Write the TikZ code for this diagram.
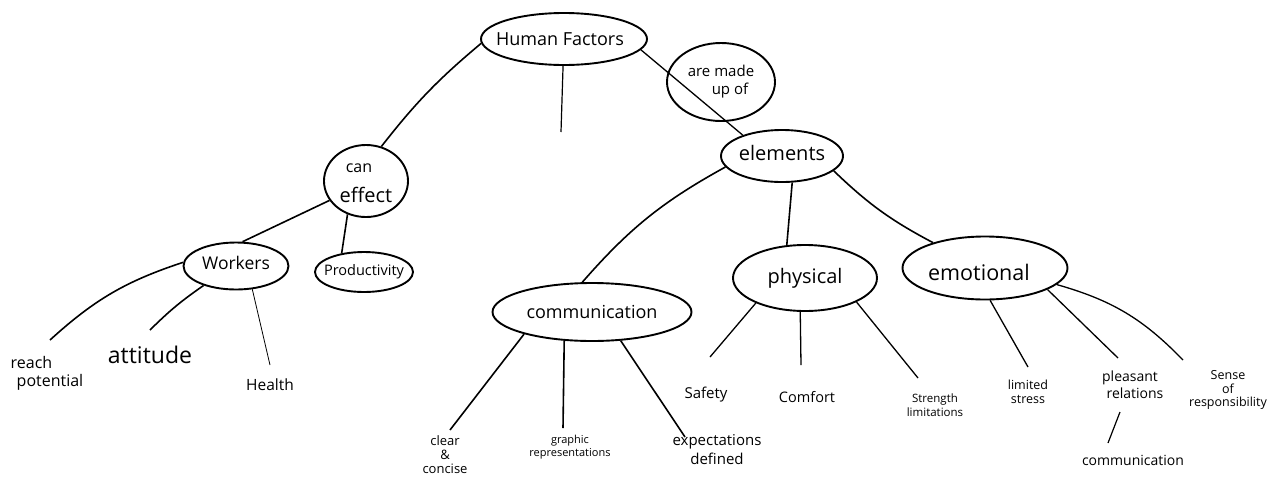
\documentclass[tikz,border=0pt]{standalone}
\usepackage{fontspec}
\setmainfont{Open Sans}
\usetikzlibrary{shapes.geometric,calc}
\newcommand{\fs}[1]{\fontsize{#1}{#1}\selectfont}
\tikzset{
  bubble/.style={draw, ellipse, line width=1.9pt, inner sep=0pt},
  link/.style={line width=1.6pt},
  thinlink/.style={line width=0.8pt},
  leaf/.style={inner sep=1pt, align=center},
}
\begin{document}
\begin{tikzpicture}[x=1pt,y=1pt]
\useasboundingbox[fill=white] (0,0) rectangle (1278,-491);
% bubbles
\node[bubble, minimum width=166pt, minimum height=52pt,
  label={[font=\fs{18}, xshift=-4pt]center:Human Factors}] (hf) at (564,-39) {};
\node[bubble, minimum width=108pt, minimum height=78pt,
  label={[font=\fs{15}, align=center]center:{are made\\[3pt]\hspace*{18pt}up of}}] (amu) at (721,-82) {};
\node[bubble, minimum width=84pt, minimum height=72pt,
  label={[align=center, font=\fs{20}, yshift=-2pt]center:{\hspace*{-14pt}{\fs{16}can}\\[10pt]effect}}] (ce) at (366,-181) {};
\node[bubble, minimum width=105pt, minimum height=47pt,
  label={[font=\fs{17.5}, yshift=3pt]center:Workers}] (wk) at (236,-266) {};
\node[bubble, minimum width=98pt, minimum height=40pt,
  label={[font=\fs{14.5}]center:Productivity}] (pr) at (364,-272) {};
\node[bubble, minimum width=122pt, minimum height=52pt,
  label={[font=\fs{20}, yshift=3pt]center:elements}] (el) at (782,-156) {};
\node[bubble, minimum width=199pt, minimum height=58pt,
  label={[font=\fs{18}]center:communication}] (cm) at (592,-312) {};
\node[bubble, minimum width=144pt, minimum height=66pt,
  label={[font=\fs{20}]center:physical}] (ph) at (805,-278) {};
\node[bubble, minimum width=165pt, minimum height=63pt,
  label={[font=\fs{21.5}, xshift=-6pt, yshift=-4pt]center:emotional}] (em) at (985,-268) {};
\coordinate (hfd) at (561,-132);
% leaves
\node[leaf, font=\fs{16}, align=left] (rp) at (47,-373) {reach\\[2pt]\hspace*{6pt}potential};
\node[leaf, font=\fs{23}] (at) at (150,-355) {attitude};
\node[leaf, font=\fs{15.5}] (he) at (270,-385) {Health};
\node[leaf, font=\fs{13}] (cc) at (445,-455) {clear\\[1pt]\&\\[1pt]concise};
\node[leaf, font=\fs{11}] (gr) at (570,-447) {graphic\\[2pt]representations};
\node[leaf, font=\fs{15}] (ed) at (717,-450) {expectations\\[3pt]defined};
\node[leaf, font=\fs{15}] (sa) at (706,-395) {Safety};
\node[leaf, font=\fs{14.5}] (co) at (807,-397) {Comfort};
\node[leaf, font=\fs{11.5}] (sl) at (935,-405) {Strength\\[3pt]limitations};
\node[leaf, font=\fs{12.5}] (ls) at (1028,-392) {limited\\[2pt]stress};
\node[leaf, font=\fs{14}] (plr) at (1130,-385) {pleasant\\[3pt]\hspace*{10pt}relations};
\node[leaf, font=\fs{12.5}] (sr) at (1228,-390) {Sense\\[1pt]of\\[1pt]responsibility};
\node[leaf, font=\fs{14}] (cmm) at (1133,-460) {communication};
% connectors
\draw[link] (hf.183) to[bend right=6] (ce.66);
\draw[link, line width=1.3pt] (hf.352) -- (el.152);
\draw[link, line width=1.2pt] (hf.268) -- (hfd);
\draw[link] (ce.208) -- (wk.75);
\draw[link] (ce.241) -- (pr.140);
\draw[link] (wk.176) to[bend right=12] ($(rp)+(3,33)$);
\draw[link] (wk.211) to[bend right=5] ($(at)+(0,25)$);
\draw[thinlink] (wk.305) -- ($(he)+(0,20)$);
\draw[link] (el.191) to[bend right=10] (cm.108);
\draw[link] (el.291) -- (ph.119);
\draw[link] (el.344) to[bend right=8] (em.154);
\draw[link] (cm.198) -- ($(cc)+(5,25)$);
\draw[link] (cm.226) -- ($(gr)+(-7,19)$);
\draw[link] (cm.315) -- ($(ed)+(-32,13)$);
\draw[link, line width=1.3pt] (ph.207) -- ($(sa)+(4,38)$);
\draw[link, line width=1.3pt] (ph.262) -- ($(co)+(-6,32)$);
\draw[link, line width=1.3pt] (ph.335) -- ($(sl)+(-17,27)$);
\draw[link, line width=1.3pt] (em.279) -- ($(ls)+(0,25)$);
\draw[link, line width=1.3pt] (em.341) -- ($(plr)+(-12,27)$);
\draw[link, line width=1.3pt] (em.347) to[bend left=15] ($(sr)+(-45,30)$);
\draw[link, line width=1.2pt] ($(plr)+(-10,-27)$) -- ($(cmm)+(-25,17)$);
\end{tikzpicture}
\end{document}
